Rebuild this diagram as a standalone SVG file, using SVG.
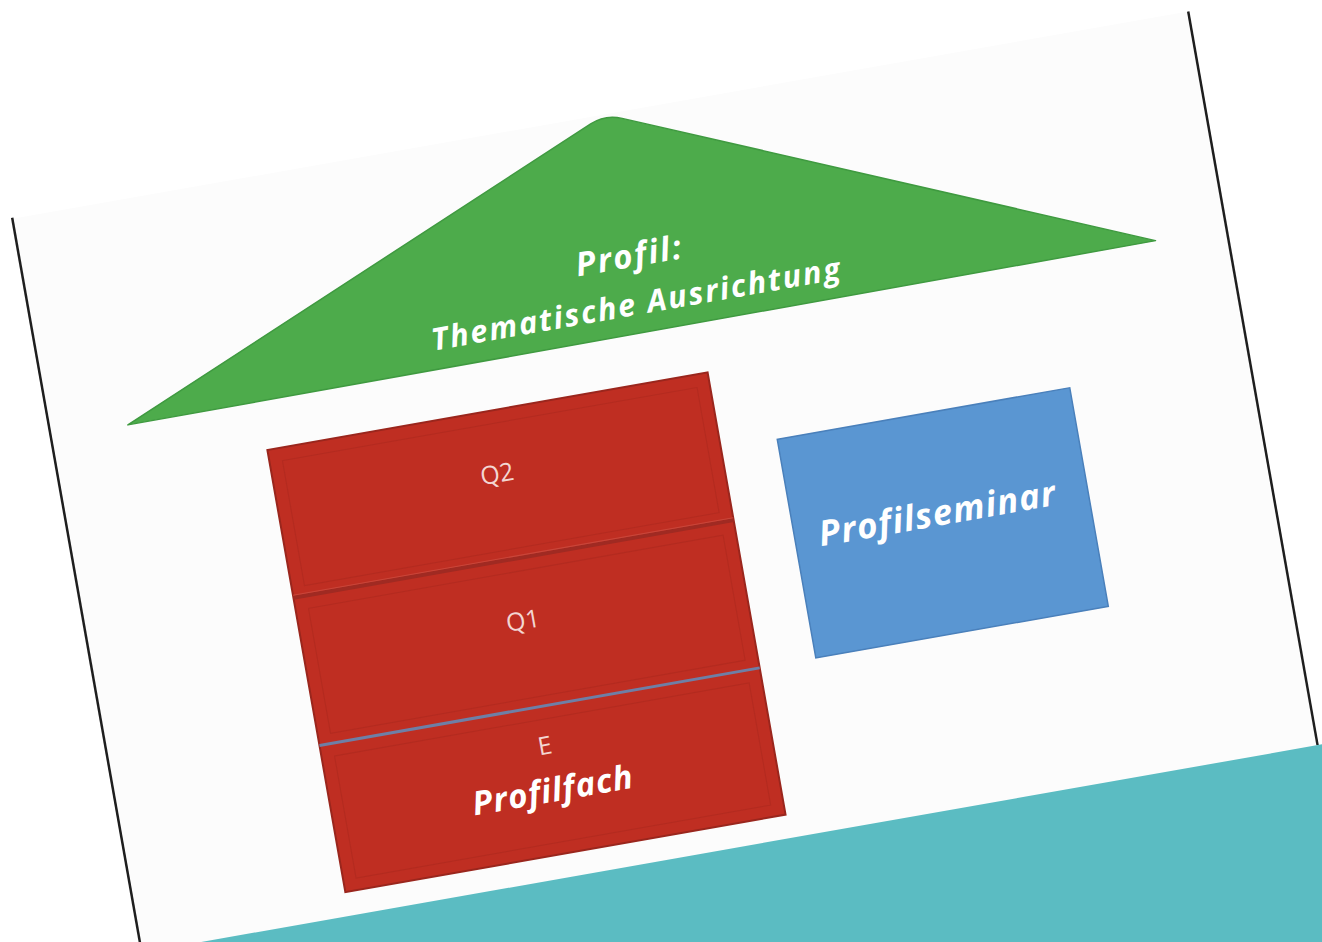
<svg xmlns="http://www.w3.org/2000/svg" width="1322" height="942" viewBox="0 0 1322 942">
  <style>
    .lbl { font-family: "Open Sans", "Noto Sans", "Liberation Sans", sans-serif; fill: #ffffff; text-anchor: middle; }
    .big { font-weight: 700; font-style: italic; }
    .small { font-weight: 400; fill: #f3d6d2; }
    .frame { stroke: #1e1e1e; stroke-width: 2.5; fill: none; }
    .sec { fill: #bf2e22; }
  </style>
  <rect width="1322" height="942" fill="#ffffff"/>
  <g transform="rotate(-10 661 471)">
    <rect x="66" y="110" width="1194" height="760" fill="#fcfcfc"/>
    <g id="frame">
      <line class="frame" x1="66" y1="109" x2="66" y2="900"/>
      <line class="frame" x1="1260" y1="110" x2="1260" y2="855"/>
    </g>
    <rect id="band" x="60" y="855" width="1400" height="300" fill="#5bbcc2"/>
    <g id="roof">
      <path d="M144 333 L652 117 Q668 110 684 117 L1188 330 Z" fill="#4dab4b" stroke="#3f9a40" stroke-width="1.5" stroke-linejoin="round"/>
      <text class="lbl big" x="667" y="265" font-size="33" letter-spacing="2" font-weight="600" fill="#eaf7e8">Profil:</text>
      <text class="lbl big" x="666" y="313" font-size="31" letter-spacing="2" font-weight="600" fill="#f2faf0">Thematische Ausrichtung</text>
    </g>
    <g id="profilfach">
      <rect class="sec" x="277" y="382" width="447" height="449" stroke="#9a261d" stroke-width="2"/>
      <rect x="290" y="395" width="421" height="127" fill="none" stroke="#a8281e" stroke-width="1" opacity="0.5"/>
      <rect x="290" y="545" width="421" height="127" fill="none" stroke="#a8281e" stroke-width="1" opacity="0.5"/>
      <rect x="290" y="695" width="421" height="124" fill="none" stroke="#a8281e" stroke-width="1" opacity="0.5"/>
      <line x1="277" y1="532" x2="724" y2="532" stroke="#a02a22" stroke-width="4"/>
      <line x1="277" y1="529.5" x2="724" y2="529.5" stroke="#c9463a" stroke-width="1"/>
      <line x1="277" y1="682" x2="724" y2="682" stroke="#6e7fa6" stroke-width="3"/>
      <text class="lbl small" x="499" y="454" font-size="25">Q2</text>
      <text class="lbl small" x="499" y="603" font-size="25">Q1</text>
      <text class="lbl small" x="499" y="730" font-size="25">E</text>
      <text class="lbl big" x="499" y="778" font-size="33" letter-spacing="1" fill="#f8eeee">Profilfach</text>
    </g>
    <g id="profilseminar">
      <rect x="781" y="460" width="297" height="222" fill="#5a96d2" stroke="#4a80bb" stroke-width="1.5"/>
      <text class="lbl big" x="926" y="573" font-size="35" letter-spacing="1.2" fill="#eef4fb">Profilseminar</text>
    </g>
    <g id="connectors"/>
  </g>
</svg>
